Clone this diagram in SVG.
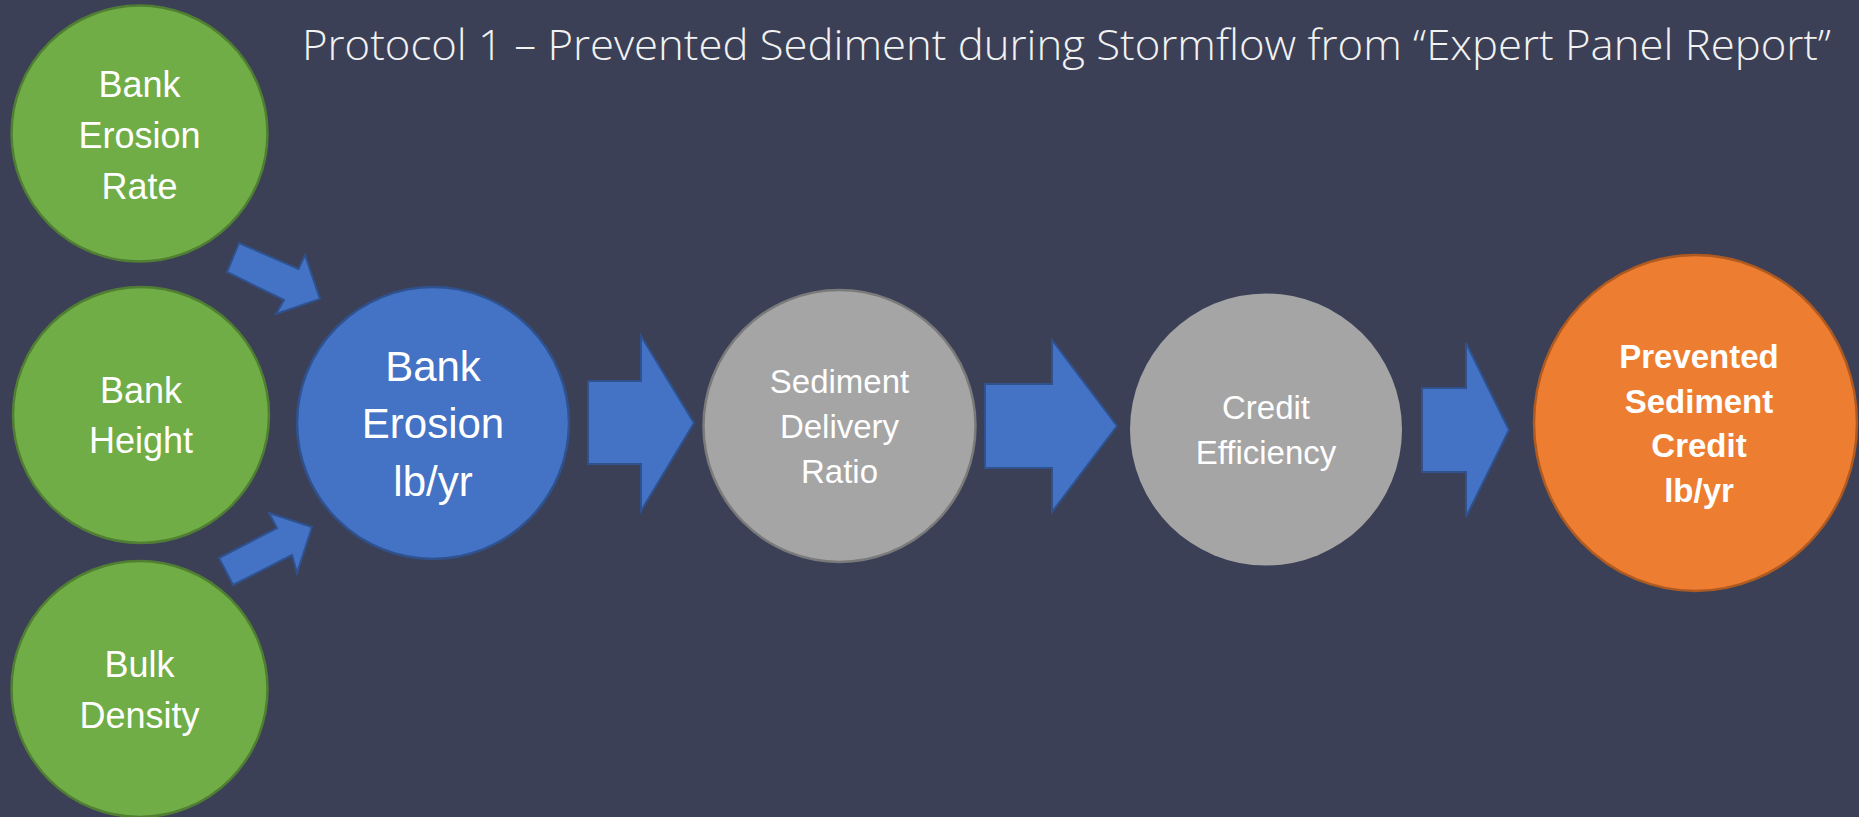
<svg xmlns="http://www.w3.org/2000/svg" width="1859" height="817" viewBox="0 0 1859 817">
<style>
.t{font-family:"Liberation Sans",Arial,sans-serif;fill:#ffffff;text-anchor:middle}
.g{fill:#70AD47;stroke:#507E32;stroke-width:2.5}
.b{fill:#4472C4;stroke:#2F528F;stroke-width:2.5}
.gr{fill:#A5A5A5;stroke:#7A7A7A;stroke-width:2.5}
.gr2{fill:#A5A5A5;stroke:none}
.o{fill:#ED7D31;stroke:#AE5A21;stroke-width:2.5}
.ar{fill:#4472C4;stroke:#2F528F;stroke-width:2}
</style>
<rect width="1859" height="817" fill="#3B4056"/>
<text x="302" y="60" font-family="'Open Sans','Liberation Sans',sans-serif" font-weight="300" font-size="43" fill="#F2F2F2" textLength="1529" lengthAdjust="spacingAndGlyphs">Protocol 1 – Prevented Sediment during Stormflow from “Expert Panel Report”</text>
<g id="connectors">
<polygon class="ar" points="239,243 298.5,269 305,255 320,299 276,314 284,300 227,272"/>
<polygon class="ar" points="233,585 292,555 297,573 312,527 269,513 277,528 219,558"/>
<polygon class="ar" points="588,381 641,381 641,336 694,423 641,511 641,464 588,464"/>
<polygon class="ar" points="985,384 1052,384 1052,340 1117,426 1052,512 1052,468 985,468"/>
<polygon class="ar" points="1422,388 1466,388 1466,343 1509,430 1466,517 1466,472 1422,472"/>
</g>
<g id="bank-erosion-rate">
<circle class="g" cx="139.5" cy="133.5" r="128"/>
<text class="t" font-size="36"><tspan x="139.5" y="97">Bank</tspan><tspan x="139.5" y="148">Erosion</tspan><tspan x="139.5" y="199">Rate</tspan></text>
</g>
<g id="bank-height">
<circle class="g" cx="141" cy="415" r="128"/>
<text class="t" font-size="36"><tspan x="141" y="403">Bank</tspan><tspan x="141" y="453">Height</tspan></text>
</g>
<g id="bulk-density">
<circle class="g" cx="139.5" cy="689" r="128"/>
<text class="t" font-size="36"><tspan x="139.5" y="677">Bulk</tspan><tspan x="139.5" y="728">Density</tspan></text>
</g>
<g id="bank-erosion">
<circle class="b" cx="433" cy="423" r="136"/>
<text class="t" font-size="42"><tspan x="433" y="381">Bank</tspan><tspan x="433" y="438">Erosion</tspan><tspan x="433" y="496">lb/yr</tspan></text>
</g>
<g id="sediment-delivery-ratio">
<circle class="gr" cx="839.5" cy="426" r="136"/>
<text class="t" font-size="33"><tspan x="839.5" y="393">Sediment</tspan><tspan x="839.5" y="438">Delivery</tspan><tspan x="839.5" y="483">Ratio</tspan></text>
</g>
<g id="credit-efficiency">
<circle class="gr2" cx="1266" cy="429.5" r="136"/>
<text class="t" font-size="33"><tspan x="1266" y="419">Credit</tspan><tspan x="1266" y="464">Efficiency</tspan></text>
</g>
<g id="prevented-sediment-credit">
<ellipse class="o" cx="1695.5" cy="423" rx="161.5" ry="168"/>
<text class="t" font-size="33" font-weight="bold"><tspan x="1699" y="368">Prevented</tspan><tspan x="1699" y="413">Sediment</tspan><tspan x="1699" y="457">Credit</tspan><tspan x="1699" y="502">lb/yr</tspan></text>
</g>
</svg>
